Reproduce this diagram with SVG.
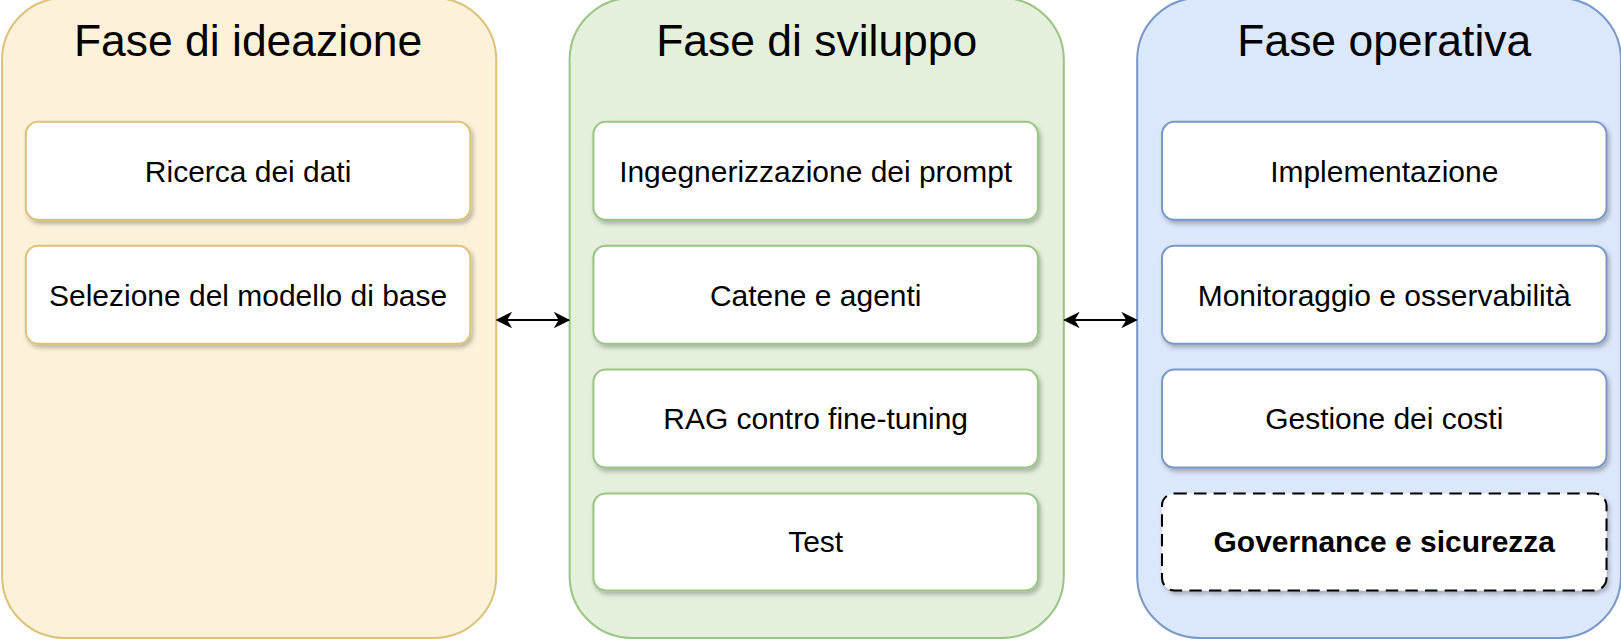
<svg xmlns="http://www.w3.org/2000/svg" width="1621" height="640" viewBox="0 0 1621 640">
<defs>
<filter id="sh" x="-10%" y="-10%" width="130%" height="140%"><feDropShadow dx="2" dy="3" stdDeviation="2" flood-color="#000" flood-opacity="0.25"/></filter>
<marker id="ah" viewBox="0 0 10 10" refX="9" refY="5" markerWidth="8" markerHeight="8" orient="auto-start-reverse"><path d="M0,0 L10,5 L0,10 L3,5 z" fill="#000"/></marker>
</defs>
<style>
text{font-family:"Liberation Sans",Arial,sans-serif;fill:#000;text-anchor:middle}
.t{font-size:43px}
.b{font-size:29px}
.box{fill:#fff;stroke-width:2}
</style>
<g transform="scale(1.0338,1.0323)">
<g id="p1"><rect x="2" y="-2" width="478" height="620" rx="60" fill="#fdf2d9" stroke="#dcc27a" stroke-width="2"/><text class="t" x="240" y="54">Fase di ideazione</text></g>
<g id="p2"><rect x="551" y="-2" width="478" height="620" rx="60" fill="#e4f0dc" stroke="#9cc486" stroke-width="2"/><text class="t" x="790" y="54">Fase di sviluppo</text></g>
<g id="p3"><rect x="1100" y="-2" width="468" height="620" rx="60" fill="#dbe7fb" stroke="#7a98c8" stroke-width="2"/><text class="t" x="1339" y="54">Fase operativa</text></g>
<g id="n1"><rect class="box" x="25" y="118" width="430" height="95" rx="12" stroke="#dcc27a" filter="url(#sh)"/><text class="b" x="240" y="176">Ricerca dei dati</text></g>
<g id="n2"><rect class="box" x="25" y="238" width="430" height="95" rx="12" stroke="#dcc27a" filter="url(#sh)"/><text class="b" x="240" y="296">Selezione del modello di base</text></g>
<g id="n3"><rect class="box" x="574" y="118" width="430" height="95" rx="12" stroke="#9cc486" filter="url(#sh)"/><text class="b" x="789" y="176">Ingegnerizzazione dei prompt</text></g>
<g id="n4"><rect class="box" x="574" y="238" width="430" height="95" rx="12" stroke="#9cc486" filter="url(#sh)"/><text class="b" x="789" y="296">Catene e agenti</text></g>
<g id="n5"><rect class="box" x="574" y="358" width="430" height="95" rx="12" stroke="#9cc486" filter="url(#sh)"/><text class="b" x="789" y="416">RAG contro fine-tuning</text></g>
<g id="n6"><rect class="box" x="574" y="478" width="430" height="94" rx="12" stroke="#9cc486" filter="url(#sh)"/><text class="b" x="789" y="535">Test</text></g>
<g id="n7"><rect class="box" x="1124" y="118" width="430" height="95" rx="12" stroke="#7a98c8" filter="url(#sh)"/><text class="b" x="1339" y="176">Implementazione</text></g>
<g id="n8"><rect class="box" x="1124" y="238" width="430" height="95" rx="12" stroke="#7a98c8" filter="url(#sh)"/><text class="b" x="1339" y="296">Monitoraggio e osservabilità</text></g>
<g id="n9"><rect class="box" x="1124" y="358" width="430" height="95" rx="12" stroke="#7a98c8" filter="url(#sh)"/><text class="b" x="1339" y="416">Gestione dei costi</text></g>
<g id="n10"><rect class="box" x="1124" y="478" width="430" height="94" rx="12" stroke="#000" stroke-width="3.5" stroke-dasharray="12,7" filter="url(#sh)"/><text class="b" x="1339" y="535" font-weight="bold">Governance e sicurezza</text></g>
<g id="connectors" stroke="#000" stroke-width="2" fill="none">
<line x1="481" y1="310" x2="550" y2="310" marker-start="url(#ah)" marker-end="url(#ah)"/>
<line x1="1030" y1="310" x2="1099" y2="310" marker-start="url(#ah)" marker-end="url(#ah)"/>
</g>
</g>
</svg>
